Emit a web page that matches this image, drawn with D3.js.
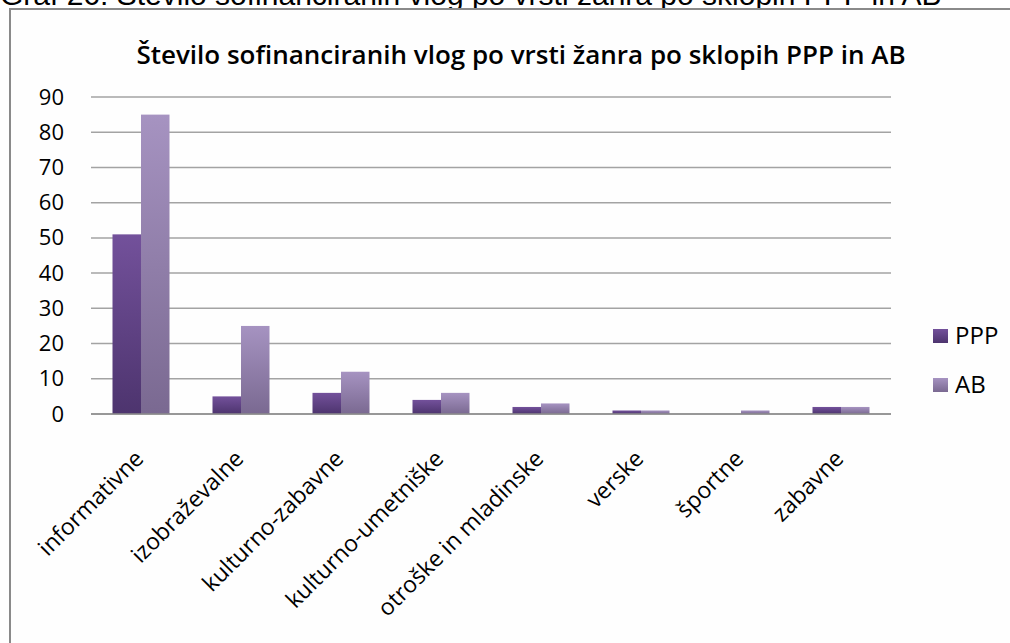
<!DOCTYPE html>
<html>
<head>
<meta charset="utf-8">
<script src="https://cdn.jsdelivr.net/npm/d3@7"></script>
<style>
  body { margin: 0; background: #fff; }
  svg { display: block; }
</style>
</head>
<body>
<div class="canvas"></div>
<script>
// chart values
const categories = ['informativne', 'izobraževalne', 'kulturno-zabavne', 'kulturno-umetniške',
  'otroške in mladinske', 'verske', 'športne', 'zabavne'];
const seriesNames = ['PPP', 'AB'];
const pppValues = [51, 5, 6, 4, 2, 1, 0, 2];
const abValues = [85, 25, 12, 6, 3, 1, 1, 2];
const yTicks = [0, 10, 20, 30, 40, 50, 60, 70, 80, 90];

const captionText = 'Graf 26: Število sofinanciranih vlog po vrsti žanra po sklopih PPP in AB';
const titleText = 'Število sofinanciranih vlog po vrsti žanra po sklopih PPP in AB';

const dims = { width: 1010, height: 643 };
const plot = { left: 91, right: 891, top: 97, bottom: 414 };
const labelFont = "'Open Sans', 'Noto Sans', sans-serif";

const svg = d3.select('.canvas')
  .append('svg')
  .attr('width', dims.width)
  .attr('height', dims.height);

// gradients for the two series (dark at bottom like the original)
const defs = svg.append('defs');
const grads = [
  { id: 'gPPP', top: '#73519b', bottom: '#4d346e' },
  { id: 'gAB', top: '#a693c1', bottom: '#7a6991' }
];
grads.forEach(g => {
  const lg = defs.append('linearGradient')
    .attr('id', g.id)
    .attr('x1', 0).attr('y1', 0).attr('x2', 0).attr('y2', 1);
  lg.append('stop').attr('offset', '0%').attr('stop-color', g.top);
  lg.append('stop').attr('offset', '100%').attr('stop-color', g.bottom);
});

// caption above the chart box (cut off by the page top, as in the source)
svg.append('text')
  .attr('x', 0)
  .attr('y', 5)
  .attr('font-family', "'Liberation Sans', Arial, sans-serif")
  .attr('font-size', 30)
  .attr('fill', '#000')
  .text(captionText);

// chart box
svg.append('rect')
  .attr('x', 10)
  .attr('y', 9)
  .attr('width', dims.width + 20)
  .attr('height', dims.height)
  .attr('fill', '#fefefe')
  .attr('stroke', '#8a8a8a')
  .attr('stroke-width', 2);

// title
svg.append('text')
  .attr('x', 521)
  .attr('y', 64)
  .attr('text-anchor', 'middle')
  .attr('font-family', labelFont)
  .attr('font-weight', 600)
  .attr('font-size', 26)
  .attr('fill', '#000')
  .text(titleText);

const x0 = d3.scaleBand()
  .domain(categories)
  .range([plot.left, plot.right])
  .paddingInner(0.43)
  .paddingOuter(0.215);

const x1 = d3.scaleBand()
  .domain(seriesNames)
  .range([0, x0.bandwidth()]);

const y = d3.scaleLinear()
  .domain([0, 90])
  .range([plot.bottom, plot.top]);

// gridlines
svg.append('g')
  .selectAll('line')
  .data(yTicks)
  .enter()
  .append('line')
    .attr('x1', plot.left)
    .attr('x2', plot.right)
    .attr('y1', d => y(d))
    .attr('y2', d => y(d))
    .attr('stroke', '#a3a3a3')
    .attr('stroke-width', 1.5);

// y axis labels
const yAxis = svg.append('g')
  .attr('transform', `translate(${plot.left}, 0)`)
  .call(d3.axisLeft(y).tickValues(yTicks).tickSize(0).tickPadding(27));
yAxis.select('.domain').remove();
yAxis.selectAll('text')
  .attr('font-family', labelFont)
  .attr('font-size', 22)
  .attr('fill', '#000');

// bars
const rows = categories.map((c, i) => ({ cat: c, values: [pppValues[i], abValues[i]] }));

const groups = svg.append('g')
  .selectAll('g')
  .data(rows)
  .enter()
  .append('g')
    .attr('transform', d => `translate(${x0(d.cat)}, 0)`);

groups.selectAll('rect')
  .data(d => d.values.map((v, j) => ({ name: seriesNames[j], value: v })))
  .enter()
  .append('rect')
    .attr('x', d => x1(d.name))
    .attr('y', d => y(d.value))
    .attr('width', x1.bandwidth())
    .attr('height', d => y(0) - y(d.value))
    .attr('fill', d => d.name === 'PPP' ? 'url(#gPPP)' : 'url(#gAB)');

// baseline
svg.append('line')
  .attr('x1', plot.left).attr('x2', plot.right)
  .attr('y1', y(0)).attr('y2', y(0))
  .attr('stroke', '#8c8c8c')
  .attr('stroke-width', 1.5);

// x labels, rotated
const xAxis = svg.append('g')
  .attr('transform', `translate(0, ${plot.bottom})`)
  .call(d3.axisBottom(x0).tickSize(0).tickPadding(0));
xAxis.select('.domain').remove();
xAxis.selectAll('text')
  .attr('font-family', labelFont)
  .attr('font-size', 23)
  .attr('fill', '#000')
  .attr('text-anchor', 'end')
  .attr('dy', 0)
  .attr('transform', 'translate(4, 46) rotate(-45)');

// legend
const legend = svg.selectAll('.legend')
  .data(seriesNames)
  .enter()
  .append('g')
  .attr('class', 'legend')
  .attr('transform', (d, i) => `translate(933, ${329 + i * 49})`);

legend.append('rect')
  .attr('width', 15)
  .attr('height', 14)
  .attr('fill', d => d === 'PPP' ? 'url(#gPPP)' : 'url(#gAB)');

legend.append('text')
  .attr('x', 22)
  .attr('y', 15)
  .attr('font-family', labelFont)
  .attr('font-size', 24)
  .attr('fill', '#000')
  .text(d => d);
</script>
</body>
</html>
